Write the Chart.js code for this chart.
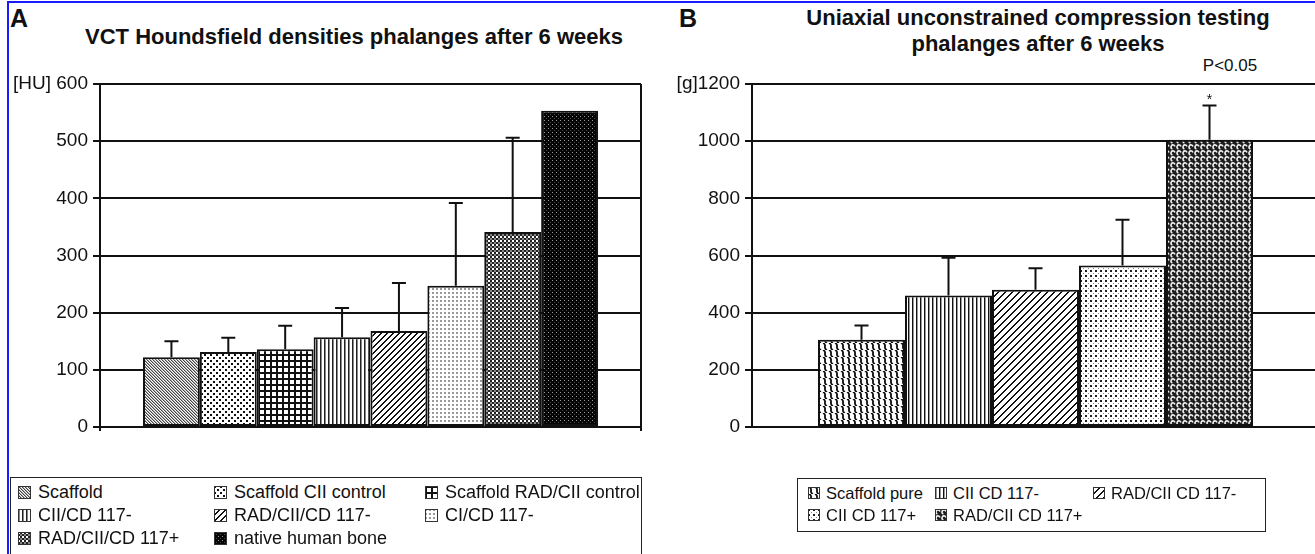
<!DOCTYPE html>
<html>
<head>
<meta charset="utf-8">
<script src="https://cdn.jsdelivr.net/npm/chart.js@4.4.0/dist/chart.umd.min.js"></script>
<style>
  body { margin:0; width:1315px; height:554px; overflow:hidden; background:#fff; position:relative;
         font-family:"Liberation Sans", Arial, Helvetica, sans-serif; color:#111; }
  #blueL { position:absolute; left:7px; top:1px; width:2px; height:560px; background:#1a1aff; }
  #blueT { position:absolute; left:7px; top:1px; width:1320px; height:2px; background:#1a1aff; }
  .letter { position:absolute; top:4px; font-weight:bold; font-size:25px; line-height:28px; }
  .title { position:absolute; text-align:center; font-weight:bold; font-size:22px; line-height:26px; }
  #titleA { left:0; width:708px; top:24px; }
  #titleB { left:660px; width:756px; top:5px; }
  #pval { position:absolute; left:1180px; width:100px; top:55px; text-align:center; font-size:17px; line-height:22px; }
  canvas.chart { position:absolute; top:0; }
  #chartA { left:0; }
  #chartB { left:660px; }
  .legend { position:absolute; border:1.5px solid #222; display:grid; align-items:center; box-sizing:border-box; }
  #legendA { left:10px; top:477px; width:632px; height:90px; grid-template-columns:196px 211px auto; grid-auto-rows:23px; padding:3px 0 0 7px; font-size:18px; }
  #legendB { left:797px; top:478px; width:469px; height:54px; grid-template-columns:127px 158px auto; grid-auto-rows:22px; padding:3px 0 0 10px; font-size:16.5px; }
  .item { display:flex; align-items:center; white-space:nowrap; }
  #legendA .item canvas { margin-right:7px; }
  #legendB .item canvas { margin-right:6px; }
</style>
</head>
<body>
<div id="blueL"></div><div id="blueT"></div>
<div class="letter" style="left:10px">A</div>
<div class="letter" style="left:679px">B</div>
<div class="title" id="titleA">VCT Houndsfield densities phalanges after 6 weeks</div>
<div class="title" id="titleB">Uniaxial unconstrained compression testing<br>phalanges after 6 weeks</div>
<div id="pval">P&lt;0.05</div>
<canvas class="chart" id="chartA" width="660" height="445"></canvas>
<canvas class="chart" id="chartB" width="670" height="445"></canvas>
<div class="legend" id="legendA"></div>
<div class="legend" id="legendB"></div>

<script>
const fontFam = '"Liberation Sans", Arial, Helvetica, sans-serif';

// panel A - VCT densities [HU]
const groupsA = ['Scaffold', 'Scaffold CII control', 'Scaffold RAD/CII control', 'CII/CD 117-',
                 'RAD/CII/CD 117-', 'CI/CD 117-', 'RAD/CII/CD 117+', 'native human bone'];
const meanA = [122, 131, 136, 157, 168, 247, 341, 553];
const sdA = [28, 25, 41, 51, 84, 145, 165, null];
const yTicksA = ['0', '100', '200', '300', '400', '500', '[HU] 600'];

// panel B - compression testing [g]
const groupsB = ['Scaffold pure', 'CII CD 117-', 'RAD/CII CD 117-', 'CII CD 117+', 'RAD/CII CD 117+'];
const meanB = [305, 460, 480, 565, 1005];
const sdB = [50, 132, 75, 160, 120];
const marksB = ['', '', '', '', '*'];
const yTicksB = ['0', '200', '400', '600', '800', '1000', '[g]1200'];

// hatch tiles
function tile(w, h, bg, draw) {
  const c = document.createElement('canvas');
  c.width = w; c.height = h;
  const g = c.getContext('2d');
  g.fillStyle = bg; g.fillRect(0, 0, w, h);
  draw(g);
  return c;
}
const patCtx = document.createElement('canvas').getContext('2d');
const pattern = (c) => patCtx.createPattern(c, 'repeat');

const tilesA = [
  // Scaffold: fine \\\ hatch
  tile(3, 3, '#fff', g => { g.fillStyle = '#444'; for (let i = 0; i < 3; i++) { g.fillRect(i, i, 1, 1); } g.fillStyle = '#aaa'; for (let i = 0; i < 3; i++) { g.fillRect((i + 1) % 3, i, 1, 1); } }),
  // Scaffold CII control: dots
  tile(6, 6, '#fff', g => { g.fillStyle = '#111'; g.fillRect(0, 0, 2, 2); g.fillRect(3, 3, 2, 2); }),
  // Scaffold RAD/CII control: plaid
  tile(6, 6, '#fff', g => { g.fillStyle = '#111'; g.fillRect(0, 0, 6, 2); g.fillRect(0, 0, 2, 6); }),
  // CII/CD 117-: vertical lines
  tile(4, 1, '#fff', g => { g.fillStyle = '#222'; g.fillRect(0, 0, 1, 1); g.fillStyle = '#888'; g.fillRect(1, 0, 1, 1); }),
  // RAD/CII/CD 117-: /// hatch
  tile(6, 6, '#fff', g => { g.fillStyle = '#111'; for (let i = 0; i < 6; i++) { g.fillRect(i, 5 - i, 1, 1); g.fillRect((i + 1) % 6, 5 - i, 1, 1); } }),
  // CI/CD 117-: light stipple
  tile(4, 4, '#fff', g => { g.fillStyle = '#999'; g.fillRect(0, 0, 2, 2); }),
  // RAD/CII/CD 117+: dark checker
  tile(4, 4, '#222', g => { g.fillStyle = '#fff'; g.fillRect(0, 0, 2, 2); g.fillStyle = '#888'; g.fillRect(2, 2, 2, 2); }),
  // native human bone: black, sparse light dots
  tile(4, 4, '#050505', g => { g.fillStyle = '#999'; g.fillRect(0, 0, 1, 1); g.fillStyle = '#444'; g.fillRect(2, 2, 1, 1); })
];

const tilesB = [
  // Scaffold pure: rows of S-waves
  tile(6, 7, '#fff', g => {
    g.strokeStyle = '#111'; g.lineWidth = 1.8;
    for (const dx of [-6, 0, 6]) {
      g.beginPath(); g.moveTo(dx + 1, 0); g.bezierCurveTo(dx + 6, 2, dx + 0, 5, dx + 5, 7); g.stroke();
    }
  }),
  // CII CD 117-: vertical lines
  tile(4, 1, '#fff', g => { g.fillStyle = '#111'; g.fillRect(0, 0, 1, 1); g.fillStyle = '#999'; g.fillRect(1, 0, 1, 1); }),
  // RAD/CII CD 117-: /// hatch
  tile(7, 7, '#fff', g => { g.fillStyle = '#111'; for (let i = 0; i < 7; i++) { g.fillRect(i, 6 - i, 1, 1); g.fillRect((i + 1) % 7, 6 - i, 1, 1); } }),
  // CII CD 117+: dots
  tile(5, 5, '#fff', g => { g.fillStyle = '#222'; g.fillRect(0, 0, 2, 2); g.fillStyle = '#888'; g.fillRect(3, 3, 1, 1); }),
  // RAD/CII CD 117+: dark with light hooks
  tile(6, 6, '#1e1e1e', g => {
    g.strokeStyle = '#f2f2f2'; g.lineWidth = 1.6;
    g.beginPath(); g.arc(3, 3, 2, 0.6 * Math.PI, 1.9 * Math.PI); g.stroke();
  })
];

// error bars (mean + SD) and significance marks
const errorBars = {
  id: 'errorBars',
  afterDatasetsDraw(chart, args, opts) {
    const ctx = chart.ctx, y = chart.scales.y;
    ctx.save();
    ctx.strokeStyle = '#111'; ctx.fillStyle = '#111'; ctx.lineWidth = 2;
    chart.data.datasets.forEach((ds, i) => {
      const sd = opts.sd[i];
      if (sd == null) return;
      const bar = chart.getDatasetMeta(i).data[0];
      const top = y.getPixelForValue(ds.data[0] + sd);
      ctx.beginPath();
      ctx.moveTo(bar.x, bar.y); ctx.lineTo(bar.x, top);
      ctx.moveTo(bar.x - 7, top); ctx.lineTo(bar.x + 7, top);
      ctx.stroke();
      const mark = opts.marks ? opts.marks[i] : '';
      if (mark) {
        ctx.font = '14px ' + fontFam;
        ctx.textAlign = 'center'; ctx.textBaseline = 'bottom';
        ctx.fillText(mark, bar.x, top + 2);
      }
    });
    ctx.restore();
  }
};

function makeChart(id, groups, means, tiles, sd, marks, ticks, max, step, catPct, axisW, padRight, showRightBorder) {
  return new Chart(document.getElementById(id), {
    type: 'bar',
    data: {
      labels: [''],
      datasets: groups.map((g, i) => ({
        label: g,
        data: [means[i]],
        backgroundColor: pattern(tiles[i]),
        borderColor: '#111',
        borderWidth: 2,
        borderSkipped: false,
        barPercentage: 1,
        categoryPercentage: catPct
      }))
    },
    options: {
      responsive: false,
      animation: false,
      devicePixelRatio: 1,
      layout: { padding: { top: 84, right: padRight, bottom: 18, left: 0 } },
      plugins: {
        legend: { display: false },
        tooltip: { enabled: false },
        errorBars: { sd: sd, marks: marks }
      },
      scales: {
        x: {
          afterFit: s => { s.height = 0; },
          ticks: { display: false },
          border: { display: false },
          grid: { display: showRightBorder, offset: true, color: '#111', lineWidth: 2, tickLength: 4 }
        },
        y: {
          min: 0, max: max,
          afterFit: s => { s.width = axisW; },
          ticks: {
            stepSize: step, padding: 5, color: '#111',
            font: { family: fontFam, size: 19 },
            callback: (v, i) => ticks[i]
          },
          grid: { color: '#111', lineWidth: 2, tickLength: 7 },
          border: { display: true, color: '#111', width: 2 }
        }
      }
    },
    plugins: [errorBars]
  });
}

makeChart('chartA', groupsA, meanA, tilesA, sdA, null, yTicksA, 600, 100, 455 / 541, 100, 19, true);
makeChart('chartB', groupsB, meanB, tilesB, sdB, marksB, yTicksB, 1200, 200, 435 / 567, 92, 11, false);

// legends in the original's grid order
function buildLegend(id, groups, tiles, size) {
  const box = document.getElementById(id);
  groups.forEach((g, i) => {
    const item = document.createElement('div');
    item.className = 'item';
    const sw = document.createElement('canvas');
    sw.width = size; sw.height = size;
    const c = sw.getContext('2d');
    c.fillStyle = c.createPattern(tiles[i], 'repeat');
    c.fillRect(0, 0, size, size);
    c.strokeStyle = '#333'; c.lineWidth = 1;
    c.strokeRect(0.5, 0.5, size - 1, size - 1);
    item.appendChild(sw);
    const t = document.createElement('span');
    t.textContent = g;
    item.appendChild(t);
    box.appendChild(item);
  });
}
buildLegend('legendA', groupsA, tilesA, 13);
buildLegend('legendB', groupsB, tilesB, 12);
</script>
</body>
</html>
